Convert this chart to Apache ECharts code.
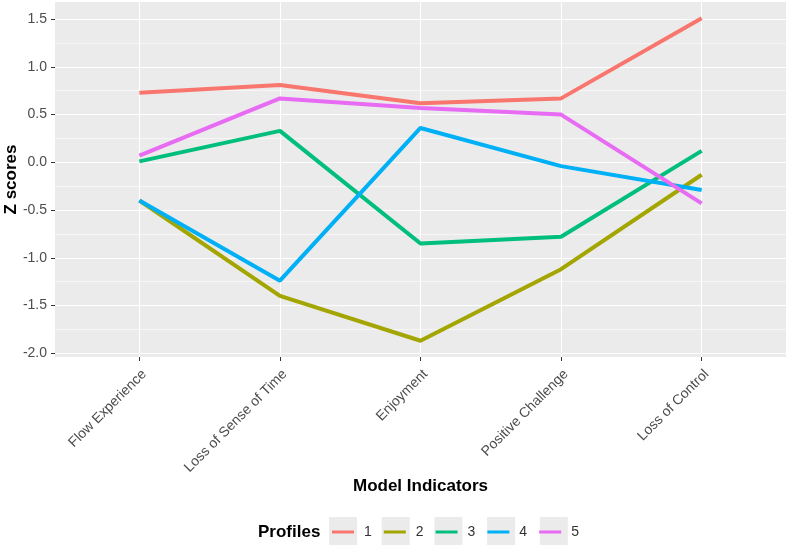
<!DOCTYPE html>
<html>
<head>
<meta charset="utf-8">
<script src="https://cdn.jsdelivr.net/npm/echarts@6/dist/echarts.min.js"></script>
<style>html,body{margin:0;padding:0;background:#fff}#c{width:789px;height:549px}</style>
</head>
<body>
<div id="c"></div>
<script>
const categories = ['Flow Experience', 'Loss of Sense of Time', 'Enjoyment', 'Positive Challenge', 'Loss of Control'];
const profileNames = ['1', '2', '3', '4', '5'];
const profile1 = [0.73, 0.81, 0.62, 0.67, 1.51];
const profile2 = [-0.40, -1.40, -1.87, -1.12, -0.13];
const profile3 = [0.01, 0.33, -0.85, -0.78, 0.12];
const profile4 = [-0.40, -1.24, 0.36, -0.04, -0.29];
const profile5 = [0.07, 0.67, 0.57, 0.50, -0.43];
const yTicks = [-2.0, -1.5, -1.0, -0.5, 0.0, 0.5, 1.0, 1.5];
const yMinor = [-1.75, -1.25, -0.75, -0.25, 0.25, 0.75, 1.25];
const colors = ['#F8766D', '#A3A500', '#00BF7D', '#00B0F6', '#E76BF3'];
const profiles = [profile1, profile2, profile3, profile4, profile5];

const FONT = '"Liberation Sans", Arial, sans-serif';
const chart = echarts.init(document.getElementById('c'));
const xIdx = categories.map((c, i) => i);

const legendLeft = 332, legendStep = 52.7;
const keyBoxes = profileNames.map((n, i) => ({
  type: 'rect', z: -10,
  shape: { x: legendLeft - 3 + i * legendStep, y: 517, width: 28, height: 28 },
  style: { fill: '#EBEBEB' }
}));

chart.setOption({
  animation: false,
  backgroundColor: '#fff',
  grid: { left: 55, right: 3, top: 2, bottom: 192, show: true, backgroundColor: '#EBEBEB', borderWidth: 0,
    outerBoundsMode: 'none', containLabel: false },
  xAxis: {
    type: 'value', min: -0.6, max: 4.6,
    name: 'Model Indicators', nameLocation: 'middle', nameGap: 121, nameMoveOverlap: false,
    nameTextStyle: { fontFamily: FONT, fontSize: 17, fontWeight: 'bold', color: '#000' },
    axisLine: { show: false, onZero: false },
    axisTick: { show: true, customValues: xIdx, length: 4, lineStyle: { color: '#333', width: 1 } },
    axisLabel: { customValues: xIdx, rotate: 45, margin: 10, verticalAlign: 'top',
      fontFamily: FONT, fontSize: 14, color: '#4D4D4D',
      formatter: v => categories[Math.round(v)] },
    splitLine: { show: true, lineStyle: { color: '#fff', width: 1.1 } }
  },
  yAxis: [{
    type: 'value', min: -2.04, max: 1.68,
    name: 'Z scores', nameLocation: 'middle', nameGap: 35, nameRotate: 90, nameMoveOverlap: false,
    nameTextStyle: { fontFamily: FONT, fontSize: 17, fontWeight: 'bold', color: '#000' },
    axisLine: { show: false, onZero: false },
    axisTick: { show: true, customValues: yTicks, length: 4, lineStyle: { color: '#333', width: 1 } },
    axisLabel: { customValues: yTicks, margin: 8, fontFamily: FONT, fontSize: 14, color: '#4D4D4D',
      formatter: v => v.toFixed(1) },
    splitLine: { show: true, lineStyle: { color: '#fff', width: 1.1 } }
  }, {
    type: 'value', min: -2.04, max: 1.68, position: 'left',
    axisLine: { show: false, onZero: false },
    axisTick: { show: false, customValues: yMinor },
    axisLabel: { show: false, customValues: yMinor },
    splitLine: { show: true, lineStyle: { color: '#fff', width: 0.55 } }
  }],
  legend: {
    left: legendLeft, top: 525, padding: 0,
    itemWidth: 22, itemHeight: 3, itemGap: 12,
    icon: 'rect',
    textStyle: { fontFamily: FONT, fontSize: 14, color: '#333', padding: [0, 0, 0, 5] },
    data: profileNames
  },
  graphic: [
    { type: 'text', left: 258, top: 524, z: 10,
      style: { text: 'Profiles', font: 'bold 17px ' + FONT, fill: '#000' } }
  ].concat(keyBoxes),
  series: profiles.map((p, i) => ({
    name: profileNames[i], type: 'line',
    data: p.map((v, j) => [xIdx[j], v]),
    showSymbol: false, symbol: 'none',
    lineStyle: { color: colors[i], width: 4 },
    itemStyle: { color: colors[i] },
    z: 3 + i
  }))
});
</script>
</body>
</html>
